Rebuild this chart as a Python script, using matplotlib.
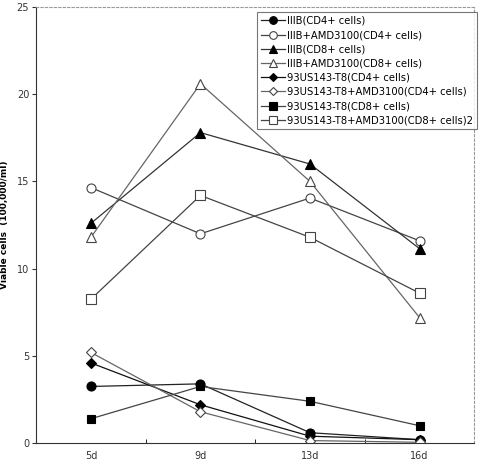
import matplotlib
matplotlib.use("Agg")
from matplotlib import pyplot as plt

days = ["5d", "9d", "13d", "16d"]

iiib_cd4 = [3.25, 3.4, 0.6, 0.2]
iiib_amd_cd4 = [14.65, 12.0, 14.05, 11.6]
iiib_cd8 = [12.6, 17.8, 16.0, 11.15]
iiib_amd_cd8 = [11.8, 20.6, 15.0, 7.2]
us_cd4 = [4.6, 2.2, 0.4, 0.2]
us_amd_cd4 = [5.2, 1.8, 0.15, 0.05]
us_cd8 = [1.4, 3.25, 2.4, 1.0]
us_amd_cd8 = [8.25, 14.2, 11.8, 8.6]

labels = ["IIIB(CD4+ cells)", "IIIB+AMD3100(CD4+ cells)",
          "IIIB(CD8+ cells)", "IIIB+AMD3100(CD8+ cells)",
          "93US143-T8(CD4+ cells)", "93US143-T8+AMD3100(CD4+ cells)",
          "93US143-T8(CD8+ cells)", "93US143-T8+AMD3100(CD8+ cells)2"]

series = [iiib_cd4, iiib_amd_cd4, iiib_cd8, iiib_amd_cd8,
          us_cd4, us_amd_cd4, us_cd8, us_amd_cd8]
markers = ["o", "o", "^", "^", "D", "D", "s", "s"]
filled = [True, False, True, False, True, False, True, False]
sizes = [6.5, 6.5, 6.5, 7.5, 5, 5, 6, 6.5]
line_colors = ["#222222", "#444444", "#333333", "#666666",
               "#111111", "#666666", "#444444", "#444444"]

fig = plt.figure(figsize=(4.82, 4.66), dpi=100)
ax = fig.add_axes([0.075, 0.049, 0.909, 0.936])

x = list(range(len(days)))
for vals, lab, m, f, s, c in zip(series, labels, markers, filled, sizes, line_colors):
    ax.plot(x, vals, marker=m, markersize=s, color=c, linewidth=0.9,
            markerfacecolor="black" if f else "white",
            markeredgecolor="black" if f else "#444444",
            markeredgewidth=0.8, label=lab)

ax.set_xlim(-0.5, 3.5)
ax.set_ylim(0, 25)
ax.set_xticks(x)
ax.set_xticklabels(days)
ax.set_xticks([0.5, 1.5, 2.5], minor=True)
ax.tick_params(axis="x", which="major", length=0, labelsize=7, colors="#333333", pad=6)
ax.tick_params(axis="x", which="minor", length=3, direction="in")
ax.set_yticks([0, 5, 10, 15, 20, 25])
ax.tick_params(axis="y", labelsize=7, colors="#333333", length=3, direction="out", pad=2)
ax.set_ylabel("Viable cells  (100,000/ml)", fontsize=6.5, fontweight="bold")
ax.yaxis.set_label_coords(-0.062, 0.5)

ax.spines["top"].set_linestyle((0, (2, 2)))
ax.spines["top"].set_color("#999999")
ax.spines["right"].set_linestyle((0, (2, 2)))
ax.spines["right"].set_color("#999999")
ax.spines["left"].set_color("#333333")
ax.spines["bottom"].set_color("#333333")

leg = ax.legend(loc="upper right", bbox_to_anchor=(1.018, 1.0), fontsize=7.2,
                frameon=True, fancybox=False, edgecolor="#555555",
                handlelength=2.4, handletextpad=0.2, borderpad=0.4,
                labelspacing=0.42, markerscale=0.85)
leg.get_frame().set_linewidth(0.8)

fig.savefig("out.png", dpi=100)
